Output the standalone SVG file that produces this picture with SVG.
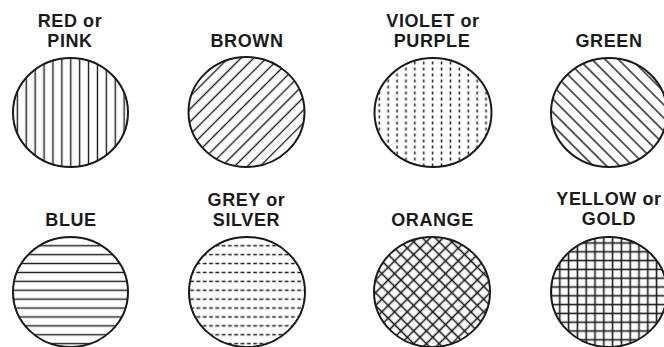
<svg xmlns="http://www.w3.org/2000/svg" width="664" height="347" viewBox="0 0 664 347">
<style>
  .lbl { font-family: "Liberation Sans", Arial, Helvetica, sans-serif; font-weight: bold; font-size: 18px; letter-spacing: 0.6px; fill: #1a1a1a; text-anchor: middle; }
  .ring { fill: none; stroke: #1a1a1a; stroke-width: 2; }
  .h { stroke: #1a1a1a; stroke-width: 1.4; }
  .hx { stroke: #1a1a1a; stroke-width: 1.6; }
  .dot { fill: #1a1a1a; }
</style>
<defs>
  <pattern id="pVert" patternUnits="userSpaceOnUse" x="4" y="0" width="8.9" height="10">
    <line class="h" x1="4.45" y1="0" x2="4.45" y2="10"/>
  </pattern>
  <pattern id="pHorz" patternUnits="userSpaceOnUse" x="0" y="1" width="10" height="8.9">
    <line class="h" x1="0" y1="4.45" x2="10" y2="4.45"/>
  </pattern>
  <pattern id="pBrown" patternUnits="userSpaceOnUse" width="10" height="9" patternTransform="rotate(-45)">
    <line class="h" x1="0" y1="4.5" x2="10" y2="4.5"/>
  </pattern>
  <pattern id="pGreen" patternUnits="userSpaceOnUse" width="10" height="9.3" patternTransform="rotate(45)">
    <line class="h" x1="0" y1="4.65" x2="10" y2="4.65"/>
  </pattern>
  <pattern id="pViolet" patternUnits="userSpaceOnUse" x="1" y="0" width="8.9" height="6">
    <rect class="dot" x="3.7" y="1.5" width="1.5" height="3"/>
  </pattern>
  <pattern id="pGrey" patternUnits="userSpaceOnUse" x="0" y="1" width="6.3" height="8.9">
    <rect class="dot" x="1.2" y="3.7" width="3.8" height="1.5"/>
  </pattern>
  <pattern id="pOrange" patternUnits="userSpaceOnUse" width="9" height="9" patternTransform="rotate(45)">
    <line class="hx" x1="0" y1="4.5" x2="9" y2="4.5"/>
    <line class="hx" x1="4.5" y1="0" x2="4.5" y2="9"/>
  </pattern>
  <pattern id="pYellow" patternUnits="userSpaceOnUse" x="1" y="1" width="8.8" height="8.8">
    <line class="hx" x1="0" y1="4.4" x2="8.8" y2="4.4"/>
    <line class="hx" x1="4.4" y1="0" x2="4.4" y2="8.8"/>
  </pattern>
</defs>
<rect width="664" height="347" fill="#ffffff"/>

<g id="red">
  <text class="lbl" x="70" y="26.5">RED or</text>
  <text class="lbl" x="70" y="47">PINK</text>
  <ellipse cx="70.5" cy="112.5" rx="57.5" ry="54.5" fill="url(#pVert)"/>
  <ellipse class="ring" cx="70.5" cy="112.5" rx="57.5" ry="54.5"/>
</g>
<g id="brown">
  <text class="lbl" x="247" y="46.5">BROWN</text>
  <ellipse cx="246.5" cy="112" rx="58" ry="55" fill="url(#pBrown)"/>
  <ellipse class="ring" cx="246.5" cy="112" rx="58" ry="55"/>
</g>
<g id="violet">
  <text class="lbl" x="433" y="26.5">VIOLET or</text>
  <text class="lbl" x="432" y="47">PURPLE</text>
  <ellipse cx="433" cy="112.5" rx="58.5" ry="54.5" fill="url(#pViolet)"/>
  <ellipse class="ring" cx="433" cy="112.5" rx="58.5" ry="54.5"/>
</g>
<g id="green">
  <text class="lbl" x="609" y="46.5">GREEN</text>
  <ellipse cx="609" cy="112.5" rx="58" ry="54.5" fill="url(#pGreen)"/>
  <ellipse class="ring" cx="609" cy="112.5" rx="58" ry="54.5"/>
</g>

<g id="blue">
  <text class="lbl" x="71" y="226">BLUE</text>
  <ellipse cx="70.5" cy="292" rx="57.5" ry="55" fill="url(#pHorz)"/>
  <ellipse class="ring" cx="70.5" cy="292" rx="57.5" ry="55"/>
</g>
<g id="grey">
  <text class="lbl" x="246.5" y="205.5">GREY or</text>
  <text class="lbl" x="246.5" y="226">SILVER</text>
  <ellipse cx="247" cy="292" rx="58" ry="55" fill="url(#pGrey)"/>
  <ellipse class="ring" cx="247" cy="292" rx="58" ry="55"/>
</g>
<g id="orange">
  <text class="lbl" x="432.5" y="225.5">ORANGE</text>
  <ellipse cx="432" cy="292" rx="58" ry="55" fill="url(#pOrange)"/>
  <ellipse class="ring" cx="432" cy="292" rx="58" ry="55"/>
</g>
<g id="yellow">
  <text class="lbl" x="609" y="204.5">YELLOW or</text>
  <text class="lbl" x="609" y="225">GOLD</text>
  <ellipse cx="609" cy="292" rx="58" ry="55" fill="url(#pYellow)"/>
  <ellipse class="ring" cx="609" cy="292" rx="58" ry="55"/>
</g>
</svg>
